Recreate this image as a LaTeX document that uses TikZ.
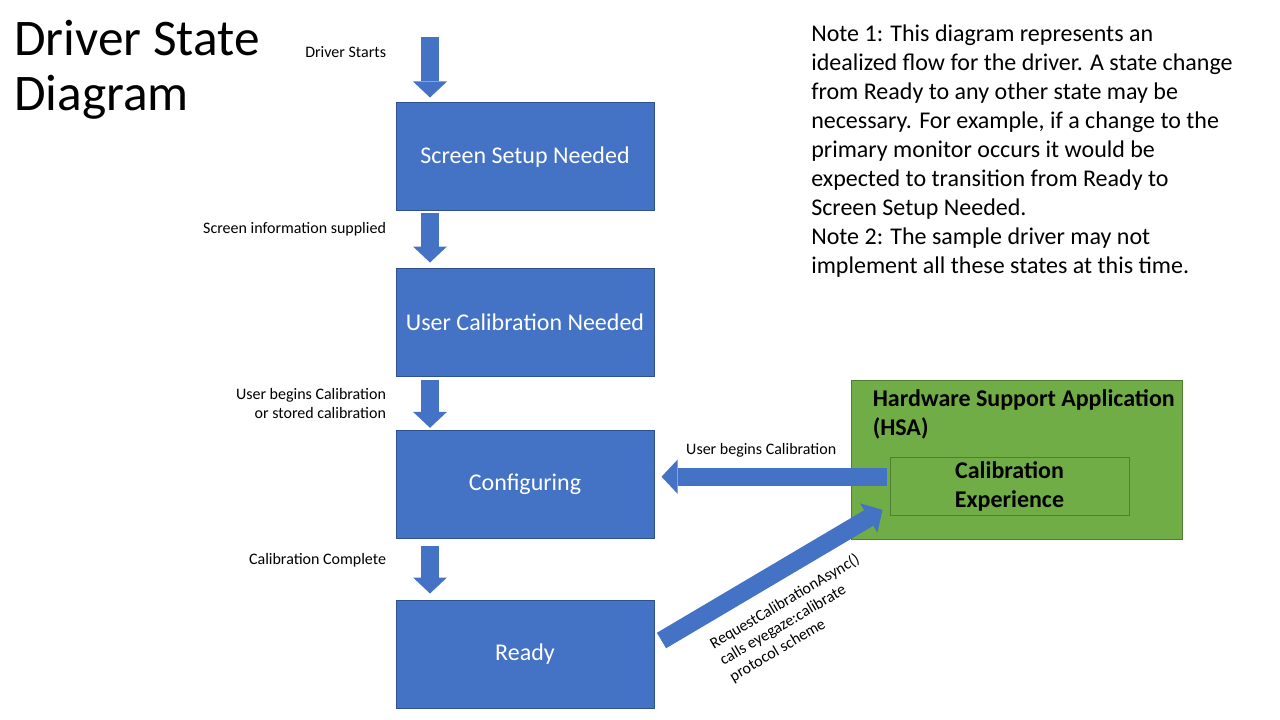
\documentclass[tikz,border=0pt]{standalone}
\usepackage{fontspec}
\setmainfont{Carlito}
\usetikzlibrary{positioning,arrows.meta}

\definecolor{stateblue}{HTML}{4472C4}
\definecolor{stateline}{HTML}{2F528F}
\definecolor{hsagreen}{HTML}{70AD47}
\definecolor{hsaline}{HTML}{507E32}

\begin{document}
\begin{tikzpicture}[x=0.75pt, y=-0.75pt,
    statenode/.style={rectangle, draw=stateline, fill=stateblue, line width=0.75pt,
      minimum width=193.5pt, minimum height=81pt, text=white,
      font=\fontsize{18}{21.6}\selectfont},
    blockarrow/.style={stateblue, line width=13.5pt,
      -{Triangle[width=25.5pt, length=12pt, line width=0pt]}},
    steplabel/.style={text=black, font=\fontsize{12}{14.4}\selectfont, inner sep=0pt, align=right},
    hsabox/.style={rectangle, draw=hsaline, fill=hsagreen, line width=0.75pt,
      minimum width=248.25pt, minimum height=119.25pt},
    expbox/.style={rectangle, draw=hsaline, line width=0.75pt,
      minimum width=179.25pt, minimum height=41.25pt, align=center,
      font=\fontsize{18}{21.6}\selectfont\bfseries}]

  \useasboundingbox (0,0) rectangle (1280,720);

  % Title and notes
  \node[anchor=north west, inner sep=0pt, align=left,
    font=\fontsize{38.5}{41.5}\selectfont] (title) at (14,20) {Driver State\\Diagram};
  \node[anchor=north west, inner sep=0pt, align=left,
    font=\fontsize{18}{21.75}\selectfont] (notes) at (811,25)
    {Note 1: This diagram represents an\\
     idealized flow for the driver. A state change\\
     from Ready to any other state may be\\
     necessary. For example, if a change to the\\
     primary monitor occurs it would be\\
     expected to transition from Ready to\\
     Screen Setup Needed.\\
     Note 2: The sample driver may not\\
     implement all these states at this time.};

  % Define nodes
  \coordinate (start) at (430,37);
  \node[statenode] (setup) at (525,157) {Screen Setup Needed};
  \node[statenode, below=42pt of setup] (usercal) {User Calibration Needed};
  \node[statenode, below=40pt of usercal] (config) {Configuring};
  \node[statenode, below=45.5pt of config] (ready) {Ready};

  \node[hsabox] (hsa) at (1016.5,459.5) {};
  \node[anchor=north west, inner sep=0pt, align=left,
    font=\fontsize{18}{21.75}\selectfont\bfseries]
    (hsatitle) at ([xshift=16.5pt, yshift=-7.5pt]hsa.north west)
    {Hardware Support Application\\(HSA)};
  \node[expbox, below=-62.25pt of hsa, xshift=-5.25pt] (calexp) {Calibration\\Experience};

  % State changes
  \draw[blockarrow, shorten >=3.75pt] (start) -- (start |- setup.north)
    node[steplabel, pos=0.23, left=26.25pt] {Driver Starts};
  \draw[blockarrow, shorten <=1.5pt, shorten >=3.75pt]
    ([xshift=-71.25pt]setup.south) -- ([xshift=-71.25pt]usercal.north)
    node[steplabel, pos=0.32, left=26.25pt] {Screen information supplied};
  \draw[blockarrow, shorten <=2.25pt, shorten >=1.5pt]
    ([xshift=-71.25pt]usercal.south) -- ([xshift=-71.25pt]config.north)
    node[steplabel, pos=0.51, left=26.25pt] {User begins Calibration\\or stored calibration};
  \draw[blockarrow, shorten <=5.25pt, shorten >=4.5pt]
    ([xshift=-71.25pt]config.south) -- ([xshift=-71.25pt]ready.north)
    node[steplabel, pos=0.35, left=26.25pt] {Calibration Complete};

  \draw[blockarrow, shorten >=5.25pt]
    ([xshift=-2.25pt, yshift=7.1pt]calexp.west) coordinate (ub) -- (ub -| config.east)
    node[steplabel, pos=0.54, above=8pt] {User begins Calibration};
  \draw[blockarrow] ([xshift=5.25pt, yshift=10.1pt]ready.east)
    -- ([xshift=-5.25pt, yshift=4.5pt]calexp.south west)
    node[steplabel, pos=0.49, sloped, anchor=north, inner ysep=10pt, align=left]
    {RequestCalibrationAsync()\\calls eyegaze:calibrate\\protocol scheme};

\end{tikzpicture}
\end{document}
